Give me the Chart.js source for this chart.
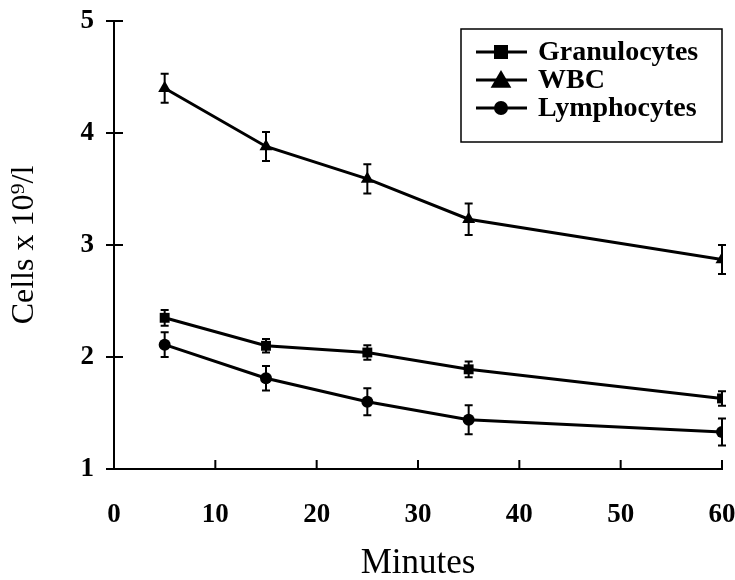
<!DOCTYPE html>
<html>
<head>
<meta charset="utf-8">
<style>
  html, body { margin: 0; padding: 0; background: #fff; }
  canvas { display: block; }
</style>
<script src="https://cdn.jsdelivr.net/npm/chart.js@4.4.1/dist/chart.umd.min.js"></script>
</head>
<body>
<canvas id="cellChart" width="735" height="580"></canvas>
<script>
// values
const minutes = [5, 15, 25, 35, 60];
const granulocytes = [2.35, 2.10, 2.04, 1.89, 1.63];
const granulocytesErr = [0.07, 0.06, 0.065, 0.07, 0.065];
const wbc = [4.40, 3.88, 3.59, 3.23, 2.87];
const wbcErr = [0.13, 0.13, 0.13, 0.14, 0.13];
const lymphocytes = [2.11, 1.81, 1.60, 1.44, 1.33];
const lymphocytesErr = [0.11, 0.11, 0.12, 0.13, 0.12];
const xTicks = [0, 10, 20, 30, 40, 50, 60];
const yTicks = [1, 2, 3, 4, 5];

const serif = '"Liberation Serif", "Times New Roman", serif';

function points(ys, errs) {
    return minutes.map((m, i) => ({ x: m, y: ys[i], err: errs[i] }));
}

function series(label, ys, errs, style, radius) {
    return {
        label: label,
        data: points(ys, errs),
        borderColor: '#000',
        backgroundColor: '#000',
        borderWidth: 3,
        pointStyle: style,
        pointRadius: radius,
        pointBorderWidth: 0,
        tension: 0
    };
}

// error bars under the markers
const errorBars = {
    id: 'errorBars',
    beforeDatasetsDraw(chart) {
        const { ctx, scales } = chart;
        ctx.save();
        ctx.strokeStyle = '#000';
        ctx.lineWidth = 2;
        chart.data.datasets.forEach(ds => {
            ds.data.forEach(p => {
                const x = scales.x.getPixelForValue(p.x);
                const y1 = scales.y.getPixelForValue(p.y + p.err);
                const y2 = scales.y.getPixelForValue(p.y - p.err);
                ctx.beginPath();
                ctx.moveTo(x, y1); ctx.lineTo(x, y2);
                ctx.moveTo(x - 4, y1); ctx.lineTo(x + 4, y1);
                ctx.moveTo(x - 4, y2); ctx.lineTo(x + 4, y2);
                ctx.stroke();
            });
        });
        ctx.restore();
    }
};

// tick marks: y ticks cross the axis, x ticks point up
const axisTicks = {
    id: 'axisTicks',
    afterDraw(chart) {
        const { ctx, scales, chartArea } = chart;
        ctx.save();
        ctx.strokeStyle = '#000';
        ctx.lineWidth = 2;
        ctx.beginPath();
        yTicks.forEach(v => {
            const y = scales.y.getPixelForValue(v);
            ctx.moveTo(chartArea.left - 8, y);
            ctx.lineTo(chartArea.left + 9, y);
        });
        xTicks.forEach(v => {
            const x = scales.x.getPixelForValue(v);
            ctx.moveTo(x, chartArea.bottom);
            ctx.lineTo(x, chartArea.bottom - 9);
        });
        ctx.stroke();
        ctx.restore();
    }
};

function marker(ctx, style, x, y, r) {
    ctx.beginPath();
    if (style === 'rect') {
        ctx.rect(x - r, y - r, 2 * r, 2 * r);
    } else if (style === 'triangle') {
        ctx.moveTo(x, y - r * 1.1);
        ctx.lineTo(x + r * 1.15, y + r * 0.85);
        ctx.lineTo(x - r * 1.15, y + r * 0.85);
        ctx.closePath();
    } else {
        ctx.arc(x, y, r, 0, Math.PI * 2);
    }
    ctx.fill();
}

// boxed legend in the top right corner
const boxLegend = {
    id: 'boxLegend',
    afterDraw(chart) {
        const { ctx } = chart;
        const box = { left: 461, top: 29, right: 722, bottom: 142 };
        const rows = [52, 80, 108];
        const sizes = [7, 9, 7];
        ctx.save();
        ctx.strokeStyle = '#000';
        ctx.lineWidth = 1.5;
        ctx.strokeRect(box.left, box.top, box.right - box.left, box.bottom - box.top);
        ctx.font = 'bold 28px ' + serif;
        ctx.textBaseline = 'middle';
        ctx.fillStyle = '#000';
        chart.data.datasets.forEach((ds, i) => {
            const y = rows[i];
            ctx.lineWidth = 3;
            ctx.beginPath();
            ctx.moveTo(476, y); ctx.lineTo(527, y);
            ctx.stroke();
            marker(ctx, ds.pointStyle, 501, y, sizes[i]);
            ctx.fillText(ds.label, 538, y + 1);
        });
        ctx.restore();
    }
};

const ctx = document.getElementById('cellChart').getContext('2d');
new Chart(ctx, {
    type: 'line',
    data: {
        datasets: [
            series('Granulocytes', granulocytes, granulocytesErr, 'rect', 7),
            series('WBC', wbc, wbcErr, 'triangle', 7.5),
            series('Lymphocytes', lymphocytes, lymphocytesErr, 'circle', 6)
        ]
    },
    options: {
        responsive: false,
        animation: false,
        layout: { padding: { top: 21, right: 13, left: 0, bottom: 0 } },
        scales: {
            x: {
                type: 'linear',
                min: 0,
                max: 60,
                afterFit: s => { s.height = 111; s.paddingLeft = 0; s.paddingRight = 0; },
                afterBuildTicks: s => { s.ticks = xTicks.map(v => ({ value: v })); },
                grid: { display: false, drawTicks: false },
                border: { color: '#000', width: 2 },
                ticks: {
                    color: '#000',
                    padding: 30,
                    maxRotation: 0,
                    font: { family: serif, size: 27, weight: 'bold' }
                },
                title: {
                    display: true,
                    text: 'Minutes',
                    color: '#000',
                    padding: { top: 0, bottom: 0 },
                    font: { family: serif, size: 35, lineHeight: 0.9 }
                }
            },
            y: {
                min: 1,
                max: 5,
                afterFit: s => { s.width = 114; s.paddingTop = 0; s.paddingBottom = 0; },
                afterBuildTicks: s => { s.ticks = yTicks.map(v => ({ value: v })); },
                grid: { display: false, drawTicks: false },
                border: { color: '#000', width: 2 },
                ticks: {
                    color: '#000',
                    padding: 20,
                    font: { family: serif, size: 27, weight: 'bold' }
                },
                title: {
                    display: true,
                    text: 'Cells x 10⁹/l',
                    color: '#000',
                    padding: { top: 9, bottom: 0 },
                    font: { family: serif, size: 32, lineHeight: 1 }
                }
            }
        },
        plugins: {
            legend: { display: false },
            tooltip: { enabled: false }
        }
    },
    plugins: [errorBars, axisTicks, boxLegend]
});
</script>
</body>
</html>
